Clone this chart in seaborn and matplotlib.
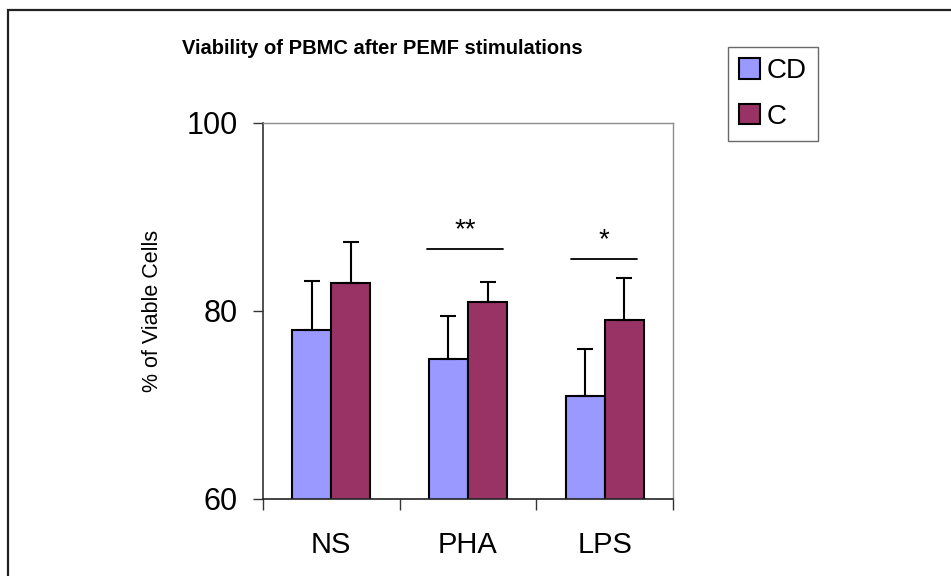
import numpy as np
import pandas as pd
import matplotlib
matplotlib.use("Agg")
import matplotlib.pyplot as plt
from matplotlib.patches import Rectangle
import seaborn as sns

# ---- data ----
categories = ["NS", "PHA", "LPS"]
groups = ["CD", "C"]
cd_values = [78.0, 74.9, 71.0]
c_values = [83.0, 81.0, 79.0]
cd_err = [5.2, 4.6, 5.0]
c_err = [4.3, 2.1, 4.5]
sig_labels = ["", "**", "*"]
sig_line_y = [None, 86.6, 85.5]
y_ticks = [60, 80, 100]
title = "Viability of PBMC after PEMF stimulations"
ylabel = "% of Viable Cells"
colors = {"CD": "#9999FF", "C": "#993366"}

df = pd.DataFrame({
    "cat": categories * 2,
    "grp": ["CD"] * 3 + ["C"] * 3,
    "val": cd_values + c_values,
    "err": cd_err + c_err,
})

sns.set_style("white")
plt.rcParams["font.family"] = ["Liberation Sans", "DejaVu Sans"]
plt.rcParams["text.color"] = "black"
plt.rcParams["axes.labelcolor"] = "black"
plt.rcParams["xtick.color"] = "black"
plt.rcParams["ytick.color"] = "black"

fig = plt.figure(figsize=(9.51, 5.76), dpi=100)
ax = fig.add_axes([0.2762, 0.1337, 0.4318, 0.6528])

sns.barplot(data=df, x="cat", y="val", hue="grp", order=categories,
            hue_order=groups, palette=colors, width=0.572, gap=0,
            edgecolor="black", linewidth=1.5, errorbar=None,
            ax=ax, legend=True, saturation=1)

# error bars (upper only) positioned from the drawn bars
bars = [p for p in ax.patches if isinstance(p, Rectangle) and p.get_width() > 0]
bars = bars[:6]
for bar, (_, row) in zip(bars, df.iterrows()):
    xc = bar.get_x() + bar.get_width() / 2
    ax.errorbar(xc, row["val"], yerr=[[0], [row["err"]]], fmt="none",
                ecolor="black", elinewidth=1.5, capsize=6, capthick=1.5,
                zorder=5)

ax.set_ylim(60, 100)
ax.set_xlim(-0.5, 2.5)
ax.set_yticks(y_ticks)
ax.set_yticklabels([str(t) for t in y_ticks], fontsize=22)
ax.tick_params(axis="y", direction="out", length=7, width=1, pad=11,
               left=True, color="#333333", labelcolor="black")
ax.set_xticks(range(len(categories)))
ax.set_xticklabels(categories, fontsize=21)
ax.set_xticks([-0.5, 0.5, 1.5, 2.5], minor=True)
ax.tick_params(axis="x", which="major", length=0, pad=23, labelcolor="black")
ax.tick_params(axis="x", which="minor", direction="out", length=8, width=1,
               bottom=True, color="#333333")
ax.set_xlabel("")
ax.set_ylabel(ylabel, fontsize=15.5, color="black")
ax.yaxis.set_label_coords(-0.243, 0.5)

for s in ["top", "right"]:
    ax.spines[s].set_visible(True)
    ax.spines[s].set_color("#8c8c8c")
    ax.spines[s].set_linewidth(1)
ax.spines["left"].set_color("#333333")
ax.spines["bottom"].set_color("#222222")
ax.spines["left"].set_linewidth(1.2)
ax.spines["bottom"].set_linewidth(1.2)

# significance annotations
sig_spans = [None, (0.698, 1.257), (1.75, 2.236)]
for lab, span, ly in zip(sig_labels, sig_spans, sig_line_y):
    if not lab:
        continue
    ax.plot(span, [ly, ly], color="black", lw=1.3, clip_on=False)
    ax.text((span[0] + span[1]) / 2, ly + 0.6, lab, ha="center",
            va="bottom", fontsize=20)

# legend
leg = ax.legend(loc="upper left", bbox_to_anchor=(728 / 951, 1 - 47 / 576),
                bbox_transform=fig.transFigure, fontsize=20, frameon=True,
                fancybox=False, edgecolor="#444444", handlelength=0.75,
                handleheight=0.75, handletextpad=0.25, labelspacing=0.7,
                borderpad=0.4, borderaxespad=0, title=None)
leg.get_frame().set_linewidth(1)
for h in leg.legend_handles:
    h.set_edgecolor("black")
    h.set_linewidth(1.5)

fig.text(382 / 951, 1 - 48 / 576, title, ha="center", va="center",
         fontsize=14.5, fontweight="bold", color="black")

# outer frame
fig.patches.append(Rectangle((8 / 951, -0.1), 1.2, 1 - 10 / 576 + 0.1,
                             transform=fig.transFigure, fill=False,
                             edgecolor="#222222", linewidth=1.6))

fig.savefig("out.png", dpi=100)
